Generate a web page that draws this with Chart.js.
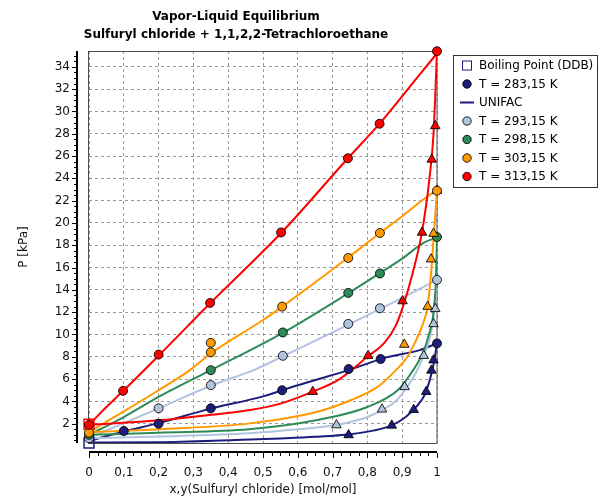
<!DOCTYPE html>
<html>
<head>
<meta charset="utf-8">
<script src="https://cdn.jsdelivr.net/npm/chart.js@4.4.0/dist/chart.umd.min.js"></script>
<style>
  html, body { margin: 0; padding: 0; background: #fff; }
</style>
</head>
<body>
<canvas id="vle" width="604" height="503"></canvas>
<script>
// x axis / y axis ticks
const xTicks = [0, 0.1, 0.2, 0.3, 0.4, 0.5, 0.6, 0.7, 0.8, 0.9, 1];
const yTicks = [2, 4, 6, 8, 10, 12, 14, 16, 18, 20, 22, 24, 26, 28, 30, 32, 34];

// T = 283,15 K
const liqX283 = [0.1, 0.2, 0.35, 0.555, 0.746, 0.838, 1];
const liqP283 = [1.35, 2.0, 3.38, 5.0, 6.9, 7.8, 9.2];
const vapY283 = [0.746, 0.87, 0.933, 0.969, 0.984, 0.99];
const vapP283 = [0.99, 1.85, 3.25, 4.87, 6.78, 7.7];
const bubX283 = [0, 0.1, 0.2, 0.35, 0.5, 0.6, 0.75, 0.85, 0.95, 1];
const bubP283 = [0.45, 1.3, 2.05, 3.35, 4.45, 5.45, 6.85, 7.9, 8.6, 9.2];
const dewX283 = [0, 0.2, 0.42, 0.55, 0.65, 0.75, 0.82, 0.87, 0.91, 0.94, 0.965, 0.98, 0.99, 1];
const dewP283 = [0.32, 0.34, 0.54, 0.68, 0.82, 1.05, 1.4, 1.85, 2.6, 3.5, 4.6, 6.0, 7.3, 9.2];

// T = 293,15 K
const liqX293 = [0, 0.2, 0.35, 0.557, 0.745, 0.836, 1];
const liqP293 = [0.7, 3.38, 5.46, 8.09, 10.95, 12.35, 14.9];
const vapY293 = [0.711, 0.842, 0.907, 0.962, 0.99, 0.995];
const vapP293 = [1.88, 3.29, 5.3, 8.1, 10.95, 12.3];
const bubX293 = [0, 0.1, 0.2, 0.35, 0.48, 0.557, 0.75, 0.85, 0.97, 1];
const bubP293 = [0.72, 2.05, 3.38, 5.4, 6.9, 8.05, 10.95, 12.5, 14.4, 14.9];
const dewX293 = [0, 0.2, 0.46, 0.6, 0.71, 0.8, 0.84, 0.88, 0.907, 0.94, 0.962, 0.978, 0.99, 1];
const dewP293 = [0.7, 0.85, 1.14, 1.5, 1.88, 2.6, 3.2, 4.0, 5.0, 6.6, 8.1, 9.5, 11.5, 14.9];

// T = 298,15 K
const liqX298 = [0, 0.35, 0.557, 0.745, 0.836, 1];
const liqP298 = [1.0, 6.8, 10.18, 13.73, 15.47, 18.74];
const bubX298 = [0, 0.1, 0.2, 0.35, 0.557, 0.745, 0.836, 0.9, 0.96, 1];
const bubP298 = [1.0, 2.6, 4.4, 6.8, 10.15, 13.7, 15.5, 16.8, 18.2, 18.7];
const dewX298 = [0, 0.2, 0.46, 0.66, 0.8, 0.887, 0.925, 0.96, 0.975, 0.99, 0.997, 1];
const dewP298 = [1.0, 1.2, 1.5, 2.35, 3.5, 5.0, 6.5, 8.4, 9.8, 12.0, 15.0, 18.7];

// T = 303,15 K
const liqX303 = [0, 0.35, 0.35, 0.555, 0.745, 0.836, 1];
const liqP303 = [1.2, 8.4, 9.25, 12.5, 16.86, 19.1, 22.9];
const vapY303 = [0.906, 0.973, 0.983, 0.99, 1];
const vapP303 = [9.1, 12.5, 16.75, 19.05, 22.9];
const bubX303 = [0, 0.1, 0.2, 0.29, 0.35, 0.5, 0.555, 0.745, 0.836, 0.9, 0.973, 1];
const bubP303 = [1.25, 3.1, 5.0, 6.8, 8.3, 11.3, 12.5, 16.9, 19.1, 20.6, 22.4, 22.9];
const dewX303 = [0, 0.2, 0.463, 0.656, 0.752, 0.829, 0.877, 0.915, 0.94, 0.96, 0.973, 0.983, 0.99, 1];
const dewP303 = [1.25, 1.5, 2.03, 3.07, 4.1, 5.3, 6.65, 8.0, 9.5, 11.0, 12.5, 15.5, 18.5, 22.9];

// T = 313,15 K
const liqX313 = [0, 0.098, 0.2, 0.348, 0.552, 0.744, 0.835, 1];
const liqP313 = [1.9, 4.95, 8.2, 12.83, 19.15, 25.8, 28.9, 35.4];
const vapY313 = [0.643, 0.802, 0.901, 0.957, 0.985, 0.995];
const vapP313 = [4.87, 8.1, 13.0, 19.15, 25.7, 28.7];
const bubX313 = [0, 0.05, 0.1, 0.2, 0.348, 0.552, 0.744, 0.835, 0.95, 1];
const bubP313 = [1.9, 3.5, 5.0, 8.1, 12.8, 19.1, 25.8, 28.9, 33.3, 35.2];
const dewX313 = [0, 0.2, 0.35, 0.463, 0.55, 0.643, 0.72, 0.8, 0.85, 0.88, 0.9, 0.93, 0.957, 0.978, 0.99, 1];
const dewP313 = [1.9, 2.3, 2.8, 3.23, 3.8, 4.87, 6.0, 8.0, 9.3, 10.7, 12.3, 15.5, 19.2, 23.9, 28.0, 35.4];

// boiling points (DDB)
const bpX = [0, 0];
const bpP = [1.95, 0.27];

const NAVY = "#1c1c7c";
const LIGHT = "#b0c4de";
const GREEN = "#2e8b57";
const ORANGE = "#ff9900";
const RED = "#ff0000";
const FONT = '"DejaVu Sans", sans-serif';

function pts(xs, ps) {
  return xs.map(function (x, i) { return { x: x, y: ps[i] }; });
}

function markers(xs, ps, color, style) {
  return {
    data: pts(xs, ps),
    showLine: false,
    pointStyle: style,
    pointRadius: style === "triangle" ? 5.5 : 4.5,
    pointBackgroundColor: color,
    pointBorderColor: "rgba(0,0,0,0.85)",
    pointBorderWidth: 1,
    clip: false,
    order: 0,
  };
}

function curve(xs, ps, color) {
  return {
    data: pts(xs, ps),
    showLine: true,
    borderColor: color,
    borderWidth: 2,
    pointRadius: 0,
    cubicInterpolationMode: "monotone",
    fill: false,
    order: 1,
  };
}

const legendItems = [
  { kind: "square", color: NAVY, text: "Boiling Point (DDB)" },
  { kind: "dot", color: NAVY, text: "T = 283,15 K" },
  { kind: "line", color: NAVY, text: "UNIFAC" },
  { kind: "dot", color: LIGHT, text: "T = 293,15 K" },
  { kind: "dot", color: GREEN, text: "T = 298,15 K" },
  { kind: "dot", color: ORANGE, text: "T = 303,15 K" },
  { kind: "dot", color: RED, text: "T = 313,15 K" },
];

const decor = {
  id: "decor",
  beforeDatasetsDraw(chart) {
    const { ctx, chartArea: a } = chart;
    ctx.save();
    ctx.strokeStyle = "#505050";
    ctx.lineWidth = 1;
    ctx.strokeRect(a.left - 0.5, a.top + 0.5, a.right - a.left + 0.5, a.bottom - a.top);
    ctx.restore();
  },
  afterDraw(chart) {
    const { ctx, chartArea: a, scales } = chart;
    ctx.save();

    // title
    ctx.fillStyle = "#000";
    ctx.font = "bold 12px " + FONT;
    ctx.textAlign = "center";
    ctx.textBaseline = "middle";
    ctx.fillText("Vapor-Liquid Equilibrium", 236, 17);
    ctx.fillText("Sulfuryl chloride + 1,1,2,2-Tetrachloroethane", 236, 35);

    // detached y axis
    ctx.strokeStyle = "#000";
    ctx.lineWidth = 2;
    ctx.beginPath();
    ctx.moveTo(77, a.top);
    ctx.lineTo(77, a.bottom);
    ctx.stroke();
    ctx.lineWidth = 1;
    ctx.beginPath();
    for (let v = 0.5; v <= 35; v += 0.5) {
      const py = Math.round(scales.y.getPixelForValue(v)) + 0.5;
      const len = v % 2 === 0 ? 4 : 2;
      ctx.moveTo(76, py);
      ctx.lineTo(76 - len, py);
    }
    ctx.stroke();

    // detached x axis
    ctx.lineWidth = 2;
    ctx.beginPath();
    ctx.moveTo(a.left, 452);
    ctx.lineTo(a.right, 452);
    ctx.stroke();
    ctx.lineWidth = 1;
    ctx.beginPath();
    for (let i = 0; i <= 40; i++) {
      const px = Math.round(scales.x.getPixelForValue(i * 0.025)) + 0.5;
      const len = i % 4 === 0 ? 5 : 3;
      ctx.moveTo(px, 453);
      ctx.lineTo(px, 453 + len);
    }
    ctx.stroke();

    // legend
    ctx.fillStyle = "#fff";
    ctx.fillRect(453.5, 55.5, 144, 132);
    ctx.strokeStyle = "#333";
    ctx.strokeRect(453.5, 55.5, 144, 132);
    ctx.font = "12px " + FONT;
    ctx.textAlign = "left";
    ctx.textBaseline = "middle";
    legendItems.forEach(function (it, i) {
      const cy = 65.5 + i * 18.5;
      const cx = 467;
      if (it.kind === "square") {
        ctx.fillStyle = "#fff";
        ctx.fillRect(cx - 4.5, cy - 4.5, 9, 9);
        ctx.strokeStyle = it.color;
        ctx.lineWidth = 1;
        ctx.strokeRect(cx - 4.5, cy - 4.5, 9, 9);
      } else if (it.kind === "line") {
        ctx.strokeStyle = it.color;
        ctx.lineWidth = 2;
        ctx.beginPath();
        ctx.moveTo(cx - 7, cy);
        ctx.lineTo(cx + 7, cy);
        ctx.stroke();
      } else {
        ctx.fillStyle = it.color;
        ctx.strokeStyle = "rgba(0,0,0,0.85)";
        ctx.lineWidth = 1;
        ctx.beginPath();
        ctx.arc(cx, cy, 4.2, 0, Math.PI * 2);
        ctx.fill();
        ctx.stroke();
      }
      ctx.fillStyle = "#000";
      ctx.fillText(it.text, 479, cy + 0.5);
    });
    ctx.restore();
  },
};

const datasets = [
  markers(liqX313, liqP313, RED, "circle"),
  markers(vapY313, vapP313, RED, "triangle"),
  markers(liqX303, liqP303, ORANGE, "circle"),
  markers(vapY303, vapP303, ORANGE, "triangle"),
  markers(liqX298, liqP298, GREEN, "circle"),
  markers(liqX293, liqP293, LIGHT, "circle"),
  markers(vapY293, vapP293, LIGHT, "triangle"),
  markers(liqX283, liqP283, NAVY, "circle"),
  markers(vapY283, vapP283, NAVY, "triangle"),
  {
    data: pts(bpX, bpP),
    showLine: false,
    pointStyle: "rect",
    pointRadius: 7,
    pointBackgroundColor: "rgba(0,0,0,0)",
    pointBorderColor: [RED, NAVY],
    pointBorderWidth: 1.5,
    clip: false,
    order: 0,
  },
  curve(bubX313, bubP313, RED),
  curve(dewX313, dewP313, RED),
  curve(bubX303, bubP303, ORANGE),
  curve(dewX303, dewP303, ORANGE),
  curve(bubX298, bubP298, GREEN),
  curve(dewX298, dewP298, GREEN),
  curve(bubX293, bubP293, LIGHT),
  curve(dewX293, dewP293, LIGHT),
  curve(bubX283, bubP283, NAVY),
  curve(dewX283, dewP283, NAVY),
];

function fmtX(v) {
  const r = Math.round(v * 10) / 10;
  return String(r).replace(".", ",");
}

new Chart(document.getElementById("vle").getContext("2d"), {
  type: "scatter",
  data: { datasets: datasets },
  options: {
    responsive: false,
    animation: false,
    devicePixelRatio: 1,
    events: [],
    layout: { padding: { left: 0, right: 167, top: 51, bottom: 0 } },
    plugins: {
      legend: { display: false },
      tooltip: { enabled: false },
      title: { display: false },
    },
    scales: {
      x: {
        type: "linear",
        min: 0,
        max: 1,
        afterBuildTicks: function (s) {
          s.ticks = xTicks.map(function (v) { return { value: v }; });
        },
        afterFit: function (s) { s.height = 60; },
        ticks: {
          callback: fmtX,
          padding: 23,
          color: "#111",
          font: { family: FONT, size: 12 },
          maxRotation: 0,
          autoSkip: false,
        },
        grid: { color: "#9a9a9a", lineWidth: 1, drawTicks: false },
        border: { display: false, dash: [3, 3] },
        title: {
          display: true,
          text: "x,y(Sulfuryl chloride) [mol/mol]",
          color: "#111",
          font: { family: FONT, size: 12 },
          padding: { top: 0, bottom: 6 },
        },
      },
      y: {
        type: "linear",
        min: 0.27,
        max: 35.42,
        afterBuildTicks: function (s) {
          s.ticks = yTicks.map(function (v) { return { value: v }; });
        },
        afterFit: function (s) { s.width = 89; },
        ticks: {
          padding: 19,
          color: "#111",
          font: { family: FONT, size: 12 },
          autoSkip: false,
        },
        grid: { color: "#9a9a9a", lineWidth: 1, drawTicks: false },
        border: { display: false, dash: [3, 3] },
        title: {
          display: true,
          text: "P [kPa]",
          color: "#111",
          font: { family: FONT, size: 12 },
          padding: { top: 17, bottom: 0 },
        },
      },
    },
  },
  plugins: [decor],
});
</script>
</body>
</html>
